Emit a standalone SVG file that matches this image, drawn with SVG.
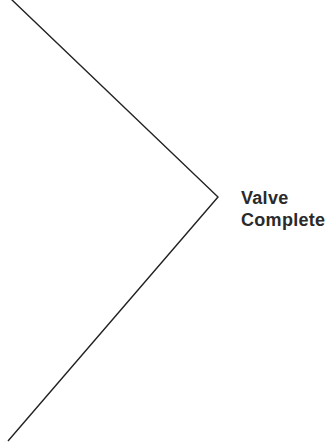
<svg xmlns="http://www.w3.org/2000/svg" width="328" height="444" viewBox="0 0 328 444">
<style>
.ln{fill:none;stroke:#222;stroke-width:1.4}
.t{font-family:"Liberation Sans",Arial,sans-serif;font-size:18px;font-weight:bold;letter-spacing:0.3px;fill:#2a2a2a}
</style>
<rect width="328" height="444" fill="#fff"/>
<g id="connectors">
<polyline class="ln" points="11,-1 218,197 8,441"/>
</g>
<g id="label">
<text class="t" x="241" y="204">Valve</text>
<text class="t" x="241" y="226">Complete</text>
</g>
</svg>
